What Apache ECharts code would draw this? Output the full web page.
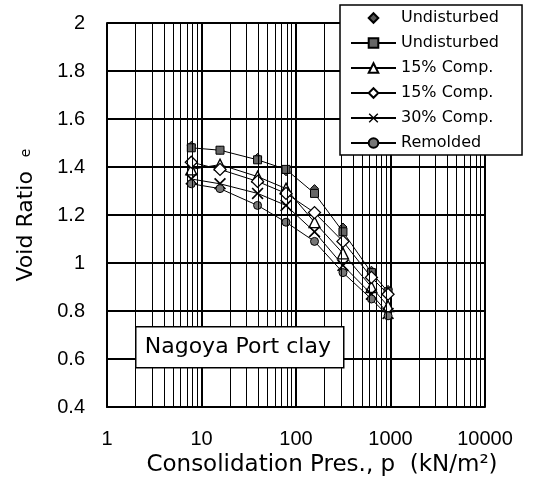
<!DOCTYPE html>
<html>
<head>
<meta charset="utf-8">
<script src="https://cdn.jsdelivr.net/npm/echarts@6/dist/echarts.min.js"></script>
<style>
  html, body { margin: 0; padding: 0; background: #fff; }
  #chart { width: 533px; height: 493px; }
</style>
</head>
<body>
<div id="chart"></div>
<script>
// consolidation pressures (kN/m2)
const pressures = [7.8, 15.7, 39.2, 78.4, 157, 314, 628, 942];

// void ratio for each sample
const undisturbedA = [1.49, 1.47, 1.44, 1.38, 1.31, 1.15, 0.97, 0.89];
const undisturbedB = [1.48, 1.47, 1.43, 1.39, 1.29, 1.13, 0.96, 0.88];
const comp15A = [1.39, 1.41, 1.36, 1.31, 1.17, 1.04, 0.90, 0.82];
const comp15B = [1.42, 1.39, 1.34, 1.29, 1.21, 1.09, 0.94, 0.87];
const comp30 = [1.35, 1.33, 1.29, 1.24, 1.13, 0.99, 0.87, 0.79];
const remolded = [1.33, 1.31, 1.24, 1.17, 1.09, 0.96, 0.85, 0.78];

const seriesNames = ['Undisturbed', 'Undisturbed ', '15% Comp.', '15% Comp. ', '30% Comp.', 'Remolded'];

// minor vertical grid (2..9 of every decade)
const minorGrid = [2, 3, 4, 5, 6, 7, 8, 9,
  20, 30, 40, 50, 60, 70, 80, 90,
  200, 300, 400, 500, 600, 700, 800, 900,
  2000, 3000, 4000, 5000, 6000, 7000, 8000, 9000];

const tickFont = 'Liberation Sans';
const textFont = 'DejaVu Sans';
const pts = (ys) => pressures.map((p, i) => [p, ys[i]]);
const crossPath = 'path://M0,1L1,0L5,4L9,0L10,1L6,5L10,9L9,10L5,6L1,10L0,9L4,5Z';

const lineBase = {
  type: 'line',
  z: 3,
  lineStyle: { color: '#000', width: 1 },
  emphasis: { disabled: true }
};

const option = {
  animation: false,
  textStyle: { fontFamily: tickFont },
  grid: { left: 107, top: 23, right: 48, bottom: 86 },
  xAxis: {
    type: 'log',
    logBase: 10,
    min: 1,
    max: 10000,
    name: 'Consolidation Pres., p  (kN/m²)',
    nameLocation: 'middle',
    nameGap: 38,
    nameTextStyle: { fontSize: 23, color: '#000', fontFamily: textFont, padding: [0, 0, 0, 52] },
    axisLine: { show: true, lineStyle: { color: '#000', width: 2 } },
    axisTick: { show: false },
    axisLabel: {
      margin: 22, fontSize: 20, color: '#000', fontFamily: tickFont,
      formatter: (v) => String(Math.round(v))
    },
    splitLine: { show: true, lineStyle: { color: '#000', width: 2 } }
  },
  yAxis: {
    type: 'value',
    min: 0.4,
    max: 2,
    interval: 0.2,
    name: 'Void Ratio  {s|e}',
    nameLocation: 'middle',
    nameGap: 70,
    nameTextStyle: {
      fontSize: 22, color: '#000', fontFamily: textFont,
      rich: { s: { fontSize: 14, fontFamily: textFont, color: '#000' } }
    },
    axisLine: { show: true, lineStyle: { color: '#000', width: 2 } },
    axisTick: { show: false },
    axisLabel: { margin: 22, fontSize: 20, color: '#000', fontFamily: tickFont },
    splitLine: { show: true, lineStyle: { color: '#000', width: 2 } }
  },
  legend: {
    orient: 'vertical',
    left: 340,
    top: 5,
    zlevel: 1,
    padding: [5, 18, 4, 10],
    itemWidth: 45,
    itemHeight: 12,
    itemGap: 9,
    backgroundColor: '#fff',
    borderColor: '#000',
    borderWidth: 1.5,
    textStyle: { fontSize: 16, color: '#000', fontFamily: textFont, lineHeight: 16 },
    data: seriesNames
  },
  graphic: [{
    type: 'group',
    left: 135,
    top: 326,
    zlevel: 1,
    children: [
      {
        type: 'rect',
        z: 100,
        zlevel: 1,
        shape: { x: 0, y: 0, width: 208, height: 41 },
        style: { fill: '#fff', stroke: '#000', lineWidth: 1.5 }
      },
      {
        type: 'text',
        z: 101,
        zlevel: 1,
        x: 9,
        y: 21,
        style: {
          text: 'Nagoya Port clay',
          fill: '#000',
          font: '22px "DejaVu Sans"',
          verticalAlign: 'middle'
        }
      }
    ]
  }],
  series: [
    {
      type: 'line',
      data: [],
      silent: true,
      markLine: {
        silent: true,
        symbol: 'none',
        label: { show: false },
        lineStyle: { color: '#000', width: 1, type: 'solid' },
        data: minorGrid.map((v) => ({ xAxis: v }))
      }
    },
    Object.assign({}, lineBase, {
      name: seriesNames[0],
      data: pts(undisturbedA),
      symbol: 'diamond',
      symbolSize: 8,
      lineStyle: { opacity: 0, width: 0 },
      itemStyle: { color: '#555', borderColor: '#000', borderWidth: 1 }
    }),
    Object.assign({}, lineBase, {
      name: seriesNames[1],
      data: pts(undisturbedB),
      symbol: 'rect',
      symbolSize: 8,
      itemStyle: { color: '#666', borderColor: '#000', borderWidth: 1 }
    }),
    Object.assign({}, lineBase, {
      name: seriesNames[2],
      data: pts(comp15A),
      symbol: 'triangle',
      symbolSize: 11,
      itemStyle: { color: '#fff', borderColor: '#000', borderWidth: 1.3 }
    }),
    Object.assign({}, lineBase, {
      name: seriesNames[3],
      data: pts(comp15B),
      symbol: 'diamond',
      symbolSize: 12,
      itemStyle: { color: '#fff', borderColor: '#000', borderWidth: 1.3 }
    }),
    Object.assign({}, lineBase, {
      name: seriesNames[4],
      data: pts(comp30),
      symbol: crossPath,
      symbolSize: 12,
      itemStyle: { color: '#000', borderWidth: 0 }
    }),
    Object.assign({}, lineBase, {
      name: seriesNames[5],
      data: pts(remolded),
      symbol: 'circle',
      symbolSize: 8,
      itemStyle: { color: '#777', borderColor: '#000', borderWidth: 1 }
    })
  ]
};

const chart = echarts.init(document.getElementById('chart'));
chart.setOption(option);
window.addEventListener('resize', function () {
  chart.resize();
});
</script>
</body>
</html>
